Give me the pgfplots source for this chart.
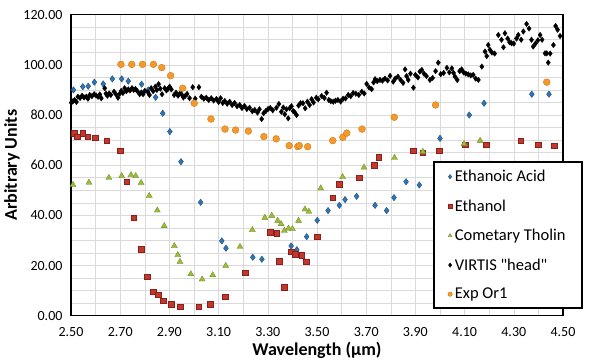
\documentclass[border=0pt]{standalone}
\usepackage{pgfplots}
\pgfplotsset{compat=1.18}
\usepackage{fontspec}
\setmainfont{Carlito}
\newfontfamily\straightfont{Carlito}[Ligatures=TeXOff]
\definecolor{cblue}{HTML}{2E75B6}
\definecolor{cblueD}{HTML}{1F4E79}
\definecolor{cred}{HTML}{C0392B}
\definecolor{credD}{HTML}{8B1E1E}
\definecolor{cgreen}{HTML}{9BBB3B}
\definecolor{cgreenD}{HTML}{6E8A22}
\definecolor{corange}{HTML}{F39A2E}
\definecolor{corangeD}{HTML}{D57A10}
\definecolor{cgrid}{HTML}{DADADA}
\begin{document}
\begin{tikzpicture}[x=1pt,y=1pt]
\useasboundingbox (0,0) rectangle (600,363);
\begin{axis}[
  at={(71pt,47.3pt)}, anchor=south west,
  scale only axis, width=492pt, height=301pt,
  xmin=2.5, xmax=4.5, ymin=0, ymax=120,
  xtick={2.5,2.7,...,4.51}, ytick={0,20,...,120},
  minor x tick num=1, minor y tick num=3,
  grid=both, major grid style={cgrid, line width=0.6pt}, minor grid style={cgrid, line width=0.6pt},
  major tick length=0pt, minor tick length=0pt,
  axis line style={black, line width=1.6pt},
  /pgf/number format/assume math mode=true,
  xticklabel={\pgfmathprintnumber[fixed,fixed zerofill,precision=2]{\tick}},
  yticklabel={\pgfmathprintnumber[fixed,fixed zerofill,precision=2]{\tick}},
  ticklabel style={font=\fontsize{14}{14}\selectfont},
  yticklabel style={xshift=-5pt},
  xticklabel style={yshift=-8pt},
  xlabel={\textbf{Wavelength (µm)}}, ylabel={\textbf{Arbitrary Units}},
  label style={font=\fontsize{18}{18}\selectfont},
  xlabel style={yshift=1pt},
  ylabel style={yshift=-3pt},
  legend style={at={(0.736,0.022)}, anchor=south west, draw=black, line width=1.6pt,
    font=\fontsize{16.5}{16.5}\selectfont, row sep=12.5pt, inner xsep=14pt, inner ysep=6pt,
    fill=white, nodes={inner xsep=2.5pt}},
  legend cell align=left,
  legend image code/.code={\draw[#1,mark size=2.2pt,line width=0.4pt] plot coordinates {(0pt,0pt)};},
]
\addplot[only marks, mark=diamond*, mark size=3.2pt, mark options={fill=cblue, draw=cblueD, line width=0.4pt}] coordinates {
(2.510,90.0)(2.548,91.3)(2.570,91.5)(2.595,93.1)(2.631,92.4)(2.668,94.4)(2.706,94.4)(2.733,93.5)
(2.787,92.3)(2.814,90.0)(2.844,87.1)(2.873,80.7)(2.902,73.4)(2.947,61.4)(3.027,45.2)(3.113,29.8)
(3.130,26.9)(3.239,23.3)(3.276,22.5)(3.395,27.8)(3.418,26.3)(3.458,31.5)(3.501,38.0)(3.545,41.9)
(3.591,44.0)(3.614,46.3)(3.661,47.6)(3.736,44.0)(3.783,41.9)(3.813,47.1)(3.862,53.4)(3.916,52.1)
(4.000,70.7)(4.119,80.0)(4.179,84.7)(4.373,88.3)(4.443,88.3)};
\addlegendentry{Ethanoic Acid}
\addplot[only marks, mark=square*, mark size=2.8pt, mark options={fill=cred, draw=credD, line width=0.4pt}] coordinates {
(2.512,72.7)(2.526,71.4)(2.548,72.7)(2.568,71.4)(2.598,71.0)(2.645,69.7)(2.699,65.8)(2.726,53.4)
(2.755,39.1)(2.785,26.6)(2.809,15.6)(2.835,9.6)(2.855,8.3)(2.875,6.0)(2.907,4.5)(2.944,3.6)
(3.019,3.6)(3.065,4.7)(3.126,7.6)(3.207,17.2)(3.309,33.2)(3.336,32.8)(3.346,21.8)(3.366,11.4)
(3.395,25.5)(3.411,24.5)(3.438,24.2)(3.456,21.5)(3.501,31.5)(3.564,47.1)(3.590,52.5)(3.672,55.0)
(3.732,60.0)(3.750,63.1)(3.892,65.8)(3.930,65.0)(3.997,65.7)(4.102,68.1)(4.187,68.1)(4.328,69.8)
(4.400,68.1)(4.463,67.8)};
\addlegendentry{Ethanol}
\addplot[only marks, mark=triangle*, mark size=3.5pt, mark options={fill=cgreen, draw=cgreenD, line width=0.3pt}] coordinates {
(2.508,52.2)(2.573,53.1)(2.654,55.0)(2.706,55.7)(2.744,56.1)(2.763,55.7)(2.785,53.0)(2.818,47.8)
(2.851,42.0)(2.879,35.8)(2.920,27.8)(2.934,24.2)(2.943,21.5)(2.987,16.6)(3.033,14.5)(3.076,16.2)
(3.129,19.9)(3.187,27.5)(3.237,34.2)(3.288,39.1)(3.316,39.9)(3.340,37.9)(3.354,36.6)(3.367,33.9)
(3.384,34.8)(3.400,34.6)(3.425,37.9)(3.451,42.4)(3.467,41.5)(3.515,50.8)(3.604,55.3)(3.691,59.1)
(3.815,63.0)(3.930,65.4)(4.098,68.5)(4.163,69.8)};
\addlegendentry{Cometary Tholin}
\addplot[only marks, mark=diamond*, mark size=2.8pt, mark options={fill=black, draw=black, line width=0.3pt}] coordinates {
(2.501,84.9)(2.508,85.5)(2.515,86.0)(2.522,85.2)(2.528,87.3)(2.537,86.8)(2.545,87.7)(2.553,87.0)
(2.562,87.3)(2.569,86.5)(2.576,88.0)(2.585,87.5)(2.594,88.3)(2.602,87.8)(2.610,87.3)(2.617,88.2)
(2.623,86.7)(2.637,90.7)(2.642,88.5)(2.648,87.7)(2.655,88.6)(2.662,88.0)(2.675,89.3)(2.683,88.2)
(2.691,86.9)(2.698,88.5)(2.704,89.6)(2.711,88.8)(2.718,90.7)(2.725,89.5)(2.733,90.2)(2.740,89.8)
(2.748,90.7)(2.755,90.0)(2.762,90.4)(2.770,89.5)(2.779,88.3)(2.786,89.0)(2.793,88.3)(2.800,89.6)
(2.813,89.1)(2.819,88.0)(2.826,90.7)(2.834,89.5)(2.843,91.3)(2.849,90.0)(2.856,92.3)(2.863,90.5)
(2.870,88.3)(2.881,90.7)(2.888,89.8)(2.895,90.5)(2.901,91.3)(2.908,90.2)(2.919,88.0)(2.927,88.9)
(2.935,87.7)(2.942,88.5)(2.949,88.3)(2.957,87.0)(2.965,87.7)(2.972,88.4)(2.982,86.7)(2.995,91.1)
(3.005,86.5)(3.020,91.1)(3.030,87.3)(3.040,86.5)(3.050,86.9)(3.060,86.0)(3.070,86.7)(3.080,85.8)
(3.091,86.4)(3.100,85.2)(3.108,86.7)(3.117,84.8)(3.125,85.6)(3.135,84.5)(3.145,85.3)(3.155,84.0)
(3.165,84.8)(3.175,83.5)(3.186,84.0)(3.195,82.8)(3.205,83.6)(3.215,82.4)(3.226,82.9)(3.237,81.5)
(3.247,82.0)(3.258,81.0)(3.266,82.3)(3.275,78.4)(3.283,80.7)(3.292,81.6)(3.301,82.4)(3.310,82.8)
(3.320,81.9)(3.335,82.9)(3.345,84.4)(3.355,81.3)(3.363,83.0)(3.369,80.3)(3.376,82.3)(3.383,78.7)
(3.389,82.7)(3.396,83.5)(3.403,81.6)(3.409,81.1)(3.417,80.0)(3.425,83.8)(3.433,84.7)(3.443,84.7)
(3.452,82.7)(3.461,85.3)(3.470,84.0)(3.478,86.3)(3.486,85.0)(3.497,86.9)(3.505,86.3)(3.519,87.6)
(3.530,86.8)(3.539,88.9)(3.548,86.0)(3.556,85.5)(3.566,85.3)(3.575,85.7)(3.585,86.0)(3.596,85.4)
(3.606,86.5)(3.616,86.6)(3.627,88.0)(3.637,87.5)(3.647,88.8)(3.658,88.5)(3.670,88.0)(3.682,89.3)
(3.692,88.6)(3.702,92.4)(3.712,91.0)(3.722,90.3)(3.730,93.0)(3.736,94.3)(3.745,93.5)(3.756,94.0)
(3.766,93.7)(3.776,94.5)(3.787,93.8)(3.797,95.6)(3.810,93.3)(3.818,94.5)(3.829,95.3)(3.840,94.0)
(3.850,92.8)(3.858,98.2)(3.864,95.5)(3.871,94.0)(3.880,96.5)(3.892,90.9)(3.900,96.0)(3.910,95.0)
(3.918,97.3)(3.926,98.0)(3.935,96.5)(3.945,95.5)(3.959,94.0)(3.970,94.8)(3.982,97.5)(3.993,100.9)
(4.003,96.3)(4.015,96.8)(4.028,98.8)(4.038,97.0)(4.048,98.6)(4.055,96.8)(4.061,95.3)(4.070,94.0)
(4.080,97.5)(4.088,98.2)(4.096,97.0)(4.105,96.5)(4.115,96.2)(4.125,95.8)(4.135,96.0)(4.145,94.5)
(4.156,94.0)(4.170,99.3)(4.183,105.3)(4.190,103.5)(4.196,107.9)(4.203,106.0)(4.211,104.9)(4.222,104.5)
(4.237,111.9)(4.250,110.0)(4.258,107.0)(4.264,112.6)(4.275,110.5)(4.283,109.0)(4.291,108.6)(4.300,108.5)
(4.311,110.5)(4.318,111.9)(4.330,110.0)(4.339,113.3)(4.352,116.3)(4.362,114.5)(4.372,110.0)(4.379,107.3)
(4.388,108.5)(4.398,109.8)(4.407,111.9)(4.415,110.0)(4.427,104.6)(4.434,104.6)(4.440,100.9)(4.448,104.5)
(4.461,107.9)(4.470,115.5)(4.478,114.0)(4.488,111.5)};
\addlegendentry{{\straightfont VIRTIS "head"}}
\addplot[only marks, mark=*, mark size=3.4pt, mark options={fill=corange, draw=corangeD, line width=0.4pt}] coordinates {
(2.703,100.2)(2.747,100.2)(2.791,100.2)(2.835,100.2)(2.869,98.9)(2.905,95.7)(2.954,90.7)(3.001,84.7)
(3.069,78.4)(3.126,74.4)(3.169,74.0)(3.221,73.6)(3.284,71.4)(3.334,70.5)(3.387,67.8)(3.422,67.4)
(3.428,67.8)(3.462,67.4)(3.564,69.8)(3.605,71.1)(3.621,72.8)(3.683,74.4)(3.814,79.1)(3.982,84.0)
(4.434,93.1)};
\addlegendentry{Exp Or1}
\end{axis}
\end{tikzpicture}
\end{document}
